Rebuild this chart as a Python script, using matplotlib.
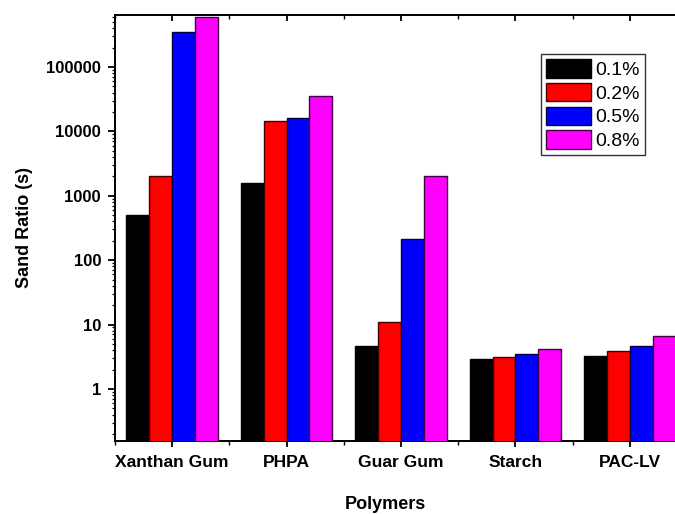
import numpy as np
import matplotlib
matplotlib.use("Agg")
import matplotlib.pyplot as plt
from matplotlib.ticker import LogLocator, FixedLocator, NullFormatter

plt.rcParams["font.family"] = ["Liberation Sans", "DejaVu Sans"]

# sand ratio (s) per polymer at each concentration
polymers = ["Xanthan Gum", "PHPA", "Guar Gum", "Starch", "PAC-LV"]
concentrations = ["0.1%", "0.2%", "0.5%", "0.8%"]
ratio_01 = [500, 1550, 4.6, 2.95, 3.2]
ratio_02 = [2050, 14300, 11.0, 3.1, 3.85]
ratio_05 = [350000, 16000, 215, 3.5, 4.65]
ratio_08 = [600000, 35500, 2000, 4.2, 6.7]
series = [ratio_01, ratio_02, ratio_05, ratio_08]
colors = ["#000000", "#ff0000", "#0000ff", "#ff00ff"]
edges = ["#000000", "#400000", "#000040", "#400040"]

fig = plt.figure(figsize=(6.75, 5.14), dpi=100)
W, H = 675, 514
left, right, top, bottom = 115, 687, 15, 440.7
ax = fig.add_axes([left / W, 1 - bottom / H, (right - left) / W, (bottom - top) / H])

x = np.arange(len(polymers))
width = 0.2
for k, (vals, c, ec, lab) in enumerate(zip(series, colors, edges, concentrations)):
    ax.bar(x + (k - 1.5) * width, vals, width, color=c, edgecolor=ec,
           linewidth=1.0, label=lab, zorder=3)

ax.set_yscale("log")
ax.set_ylim(0.157, 640000)
ax.set_xlim(-0.5, 4.5)

yticks = [1, 10, 100, 1000, 10000, 100000]
ax.yaxis.set_major_locator(FixedLocator(yticks))
ax.set_yticklabels([f"{v:d}" for v in yticks], fontsize=12, fontweight="bold")
ax.yaxis.set_minor_locator(LogLocator(base=10, subs=np.arange(2, 10), numticks=20))
ax.yaxis.set_minor_formatter(NullFormatter())

ax.set_xticks(x)
ax.set_xticklabels(polymers, fontsize=12.5, fontweight="bold")
ax.xaxis.set_minor_locator(FixedLocator(np.append(x - 0.5, x[-1] + 0.5)))

ax.tick_params(axis="y", which="major", direction="out", length=5, width=1.3, pad=5)
ax.tick_params(axis="y", which="minor", direction="out", length=2.5, width=0.9)
ax.tick_params(axis="x", which="major", direction="out", length=4.5, width=1.3, pad=6,
               top=True)
ax.tick_params(axis="x", which="minor", direction="out", length=2.8, width=1.0, top=True)

# top ticks point inward
for t in ax.xaxis.get_major_ticks() + ax.xaxis.get_minor_ticks():
    t.tick2line.set_marker(3)

for side in ["left", "bottom", "top", "right"]:
    ax.spines[side].set_linewidth(1.4)

ax.set_ylabel("Sand Ratio (s)", fontsize=13, fontweight="bold")
ax.set_xlabel("Polymers", fontsize=13, fontweight="bold")
ax.yaxis.set_label_coords(-0.143, 0.5)
ax.xaxis.set_label_coords(0.472, -0.13)

leg = ax.legend(loc="upper right", bbox_to_anchor=(0.9266, 0.9077), borderaxespad=0,
                fontsize=14, frameon=True, fancybox=False, handlelength=2.3,
                handleheight=1.08, labelspacing=0.2, handletextpad=0.25,
                borderpad=0.25)
leg.get_frame().set_edgecolor("black")
leg.get_frame().set_linewidth(1.0)

fig.savefig("out.png", dpi=100)
